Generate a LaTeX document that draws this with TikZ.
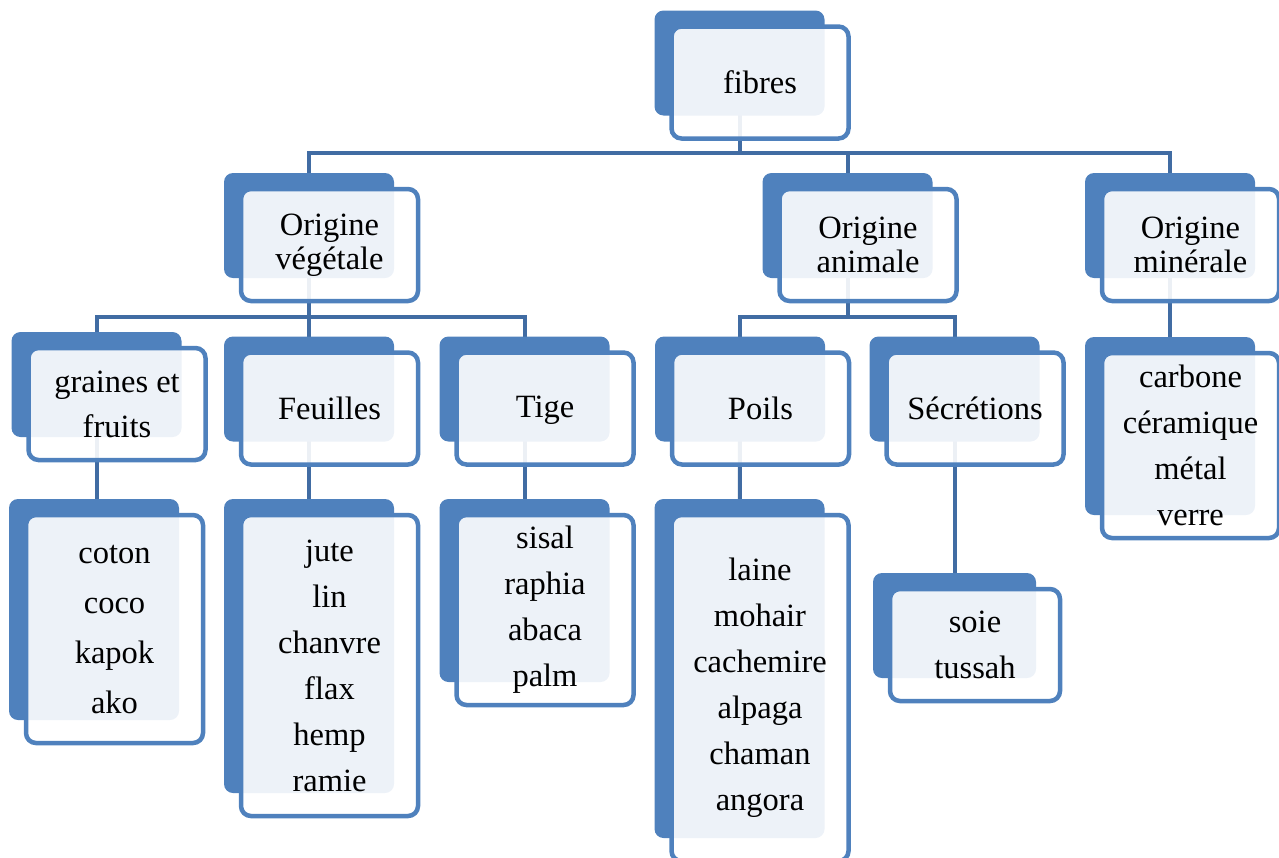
\documentclass[tikz,border=0pt]{standalone}
\usepackage{fontspec}
\setmainfont{Liberation Serif}
\usetikzlibrary{calc,backgrounds}
\definecolor{BleuDos}{RGB}{79,129,189}
\definecolor{BleuLien}{RGB}{65,108,163}

\begin{document}
\begin{tikzpicture}[x=1pt,y=-1pt,
	fond/.style={rectangle, fill=BleuDos, rounded corners=9pt, inner sep=0pt,
		outer sep=0pt, minimum width=170pt, minimum height=105pt},
	carte/.style={rectangle, draw=BleuDos, line width=4.5pt, fill=white,
		fill opacity=0.9, text opacity=1, rounded corners=10pt, inner sep=0pt,
		outer sep=0pt, align=center, minimum width=177pt, minimum height=112pt,
		font=\fontsize{32.5}{46}\selectfont},
	titre/.style={carte, font=\fontsize{32.5}{34}\selectfont},
	lien/.style={draw=BleuLien, line width=4pt}]

	\useasboundingbox (0,0) rectangle (1279,857);

	% racine
	\node[fond]  (fibres-d) at (739.5,63) {};
	\node[carte] (fibres) at ($(fibres-d)+(20.5,19.5)$) {fibres};

	% origines
	\node[fond]  (veg-d) at (309,225.5) {};
	\node[titre] (veg) at ($(veg-d)+(20.5,19.5)$) {Origine\\v\'eg\'etale};
	\node[fond]  (ani-d) at (847.5,225.5) {};
	\node[titre] (ani) at ($(ani-d)+(20.5,19.5)$) {Origine\\animale};
	\node[fond]  (min-d) at (1170,225.5) {};
	\node[titre] (min) at ($(min-d)+(20.5,19.5)$) {Origine\\min\'erale};

	% familles
	\node[fond]  (graines-d) at (96.5,384.5) {};
	\node[carte, font=\fontsize{32.5}{45}\selectfont] (graines)
		at ($(graines-d)+(20.5,19.5)$) {graines et\\fruits};
	\node[fond]  (feuilles-d) at (309,389) {};
	\node[carte] (feuilles) at ($(feuilles-d)+(20.5,19.5)$) {Feuilles};
	\node[fond]  (tige-d) at (524.5,389) {};
	\node[carte] (tige) at ($(tige-d)+(20.5,19.5)$) {Tige\strut};
	\node[fond]  (poils-d) at (740,389) {};
	\node[carte] (poils) at ($(poils-d)+(20.5,19.5)$) {Poils};
	\node[fond]  (secr-d) at (954.5,389) {};
	\node[carte] (secr) at ($(secr-d)+(20.5,19.5)$) {S\'ecr\'etions};
	\node[fond, minimum height=178pt] (minlist-d) at (1170,426) {};
	\node[carte, minimum height=185pt] (minlist) at ($(minlist-d)+(20.5,19.5)$)
		{carbone\\c\'eramique\\m\'etal\\verre};

	% exemples
	\node[fond, minimum height=221pt] (coton-d) at (94,609.5) {};
	\node[carte, minimum height=228pt, font=\fontsize{32.5}{50}\selectfont] (coton)
		at ($(coton-d)+(20.5,19.5)$) {coton\\coco\\kapok\\ako};
	\node[fond, minimum height=294pt] (jute-d) at (309,646) {};
	\node[carte, minimum height=301pt] (jute) at ($(jute-d)+(20.5,19.5)$)
		{jute\\lin\\chanvre\\flax\\hemp\\ramie};
	\node[fond, minimum height=183pt] (sisal-d) at (524.5,590.5) {};
	\node[carte, minimum height=190pt] (sisal) at ($(sisal-d)+(20.5,19.5)$)
		{sisal\\raphia\\abaca\\palm};
	\node[fond, minimum height=339pt] (laine-d) at (739.5,668.5) {};
	\node[carte, minimum height=346pt] (laine) at ($(laine-d)+(20.5,19.5)$)
		{laine\\mohair\\cachemire\\alpaga\\chaman\\angora};
	\node[fond, minimum width=163pt] (soie-d) at (954.5,625.5) {};
	\node[carte, minimum width=170pt] (soie) at ($(soie-d)+(20.5,19.5)$)
		{soie\\tussah};

	% liaisons sous les cartes
	\begin{scope}[on background layer]
		\coordinate (niv1) at (0,153);
		\coordinate (niv2) at (0,317);
		\draw[lien] (fibres-d.center) -- (fibres-d |- niv1);
		\draw[lien] (veg-d.center) |- (min-d |- niv1) -- (min-d.center);
		\draw[lien] (ani-d.center) -- (ani-d |- niv1);

		\draw[lien] (veg-d.center) -- (veg-d |- niv2);
		\draw[lien] (graines-d.center) |- (tige-d |- niv2) -- (tige-d.center);
		\draw[lien] (feuilles-d.center) -- (feuilles-d |- niv2);
		\draw[lien] (ani-d.center) -- (ani-d |- niv2);
		\draw[lien] (poils-d.center) |- (secr-d |- niv2) -- (secr-d.center);
		\draw[lien] (min-d.center) -- (minlist-d.center);

		\draw[lien] (graines-d.center) -- (graines-d |- coton-d.north);
		\draw[lien] (feuilles-d.center) -- (jute-d.center);
		\draw[lien] (tige-d.center) -- (sisal-d.center);
		\draw[lien] (poils-d.center) -- (laine-d.center);
		\draw[lien] (secr-d.center) -- (soie-d.center);
	\end{scope}
\end{tikzpicture}
\end{document}
